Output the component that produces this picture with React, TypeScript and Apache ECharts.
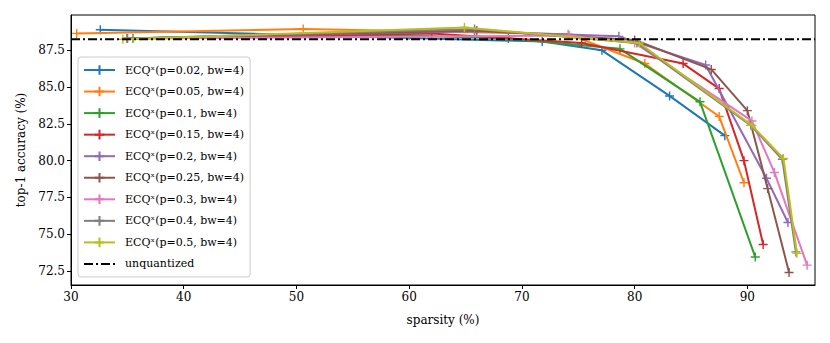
import React, { useEffect, useRef } from "react";
import * as echarts from "echarts";

const seriesNames = [
  "ECQˣ(p=0.02, bw=4)",
  "ECQˣ(p=0.05, bw=4)",
  "ECQˣ(p=0.1, bw=4)",
  "ECQˣ(p=0.15, bw=4)",
  "ECQˣ(p=0.2, bw=4)",
  "ECQˣ(p=0.25, bw=4)",
  "ECQˣ(p=0.3, bw=4)",
  "ECQˣ(p=0.4, bw=4)",
  "ECQˣ(p=0.5, bw=4)",
];
const colors = ["#1f77b4", "#ff7f0e", "#2ca02c", "#d62728", "#9467bd", "#8c564b", "#e377c2", "#7f7f7f", "#bcbd22"];

const p002 = [[32.6, 88.9], [71.8, 88.1], [77.1, 87.5], [83.1, 84.4], [88.0, 81.7]];
const p005 = [[30.5, 88.65], [50.6, 88.95], [74.1, 88.6], [80.9, 86.6], [87.5, 83.0], [89.7, 78.5]];
const p01 = [[35.5, 88.3], [60.0, 88.5], [68.8, 88.3], [78.7, 87.6], [85.8, 84.0], [90.7, 73.45]];
const p015 = [[35.0, 88.3], [62.0, 88.65], [75.3, 88.0], [84.3, 86.6], [87.5, 84.9], [89.7, 80.0], [91.4, 74.3]];
const p02 = [[35.0, 88.3], [65.8, 88.8], [78.6, 88.45], [86.3, 86.5], [91.7, 78.8], [93.6, 75.8]];
const p025 = [[35.0, 88.3], [66.0, 88.85], [80.0, 88.2], [86.8, 86.2], [90.0, 83.4], [91.8, 78.1], [93.7, 72.4]];
const p03 = [[35.0, 88.3], [74.2, 88.5], [80.0, 88.0], [90.4, 82.7], [92.4, 79.2], [95.3, 72.9]];
const p04 = [[35.0, 88.3], [65.8, 88.95], [80.2, 88.0], [90.3, 82.4], [93.1, 80.1], [94.3, 73.8]];
const p05 = [[34.6, 88.25], [64.9, 89.05], [80.4, 88.0], [90.4, 82.4], [93.2, 80.15], [94.4, 73.7]];
const seriesData = [p002, p005, p01, p015, p02, p025, p03, p04, p05];

const unquantizedName = "unquantized";
const unquantizedAcc = 88.25;
const xRange = [30, 96];
const yRange = [71.55, 89.9];
const xTicks = [30, 40, 50, 60, 70, 80, 90];
const yTicks = [72.5, 75, 77.5, 80, 82.5, 85, 87.5];

const FONT = "DejaVu Serif";
const FS = 11;
const AFS = 12;
const PLUS = "path://M0,5L10,5M5,0L5,10";

export default function App() {
  const ref = useRef<HTMLDivElement>(null);
  useEffect(() => {
    if (!ref.current) return;
    const chart = echarts.init(ref.current, null, { renderer: "svg" });
    const series: any[] = seriesData.map((d, i) => ({
      name: seriesNames[i],
      type: "line",
      data: d,
      symbol: PLUS,
      symbolSize: 9,
      showSymbol: true,
      lineStyle: { color: colors[i], width: 2 },
      itemStyle: { color: colors[i], borderColor: colors[i], borderWidth: 1.4 },
      emphasis: { disabled: true },
      z: 2 + i,
    }));
    series.push({
      name: unquantizedName,
      type: "line",
      data: [[xRange[0], unquantizedAcc], [xRange[1], unquantizedAcc]],
      symbol: "none",
      lineStyle: { color: "#000", width: 2, type: [9, 3, 2, 3] },
      itemStyle: { color: "#000", opacity: 0 },
      emphasis: { disabled: true },
      z: 20,
    });
    chart.setOption({
      animation: false,
      textStyle: { fontFamily: FONT },
      grid: {
        left: 71,
        right: 15,
        top: 15,
        bottom: 58,
        show: true,
        borderColor: "#000",
        borderWidth: 1,
        backgroundColor: "transparent",
      },
      legend: {
        orient: "vertical",
        left: 78,
        top: 57,
        data: [...seriesNames, unquantizedName],
        itemWidth: 31,
        itemHeight: 12,
        itemGap: 7.55,
        padding: [6, 6, 6, 5],
        backgroundColor: "rgba(255,255,255,0.8)",
        borderColor: "#cccccc",
        borderWidth: 1,
        borderRadius: 3,
        textStyle: { fontFamily: FONT, fontSize: FS, lineHeight: 14, color: "#000", padding: [0, 0, 0, 5] },
        selectedMode: false,
      },
      xAxis: {
        type: "value",
        min: xRange[0],
        max: xRange[1],
        name: "sparsity (%)",
        nameLocation: "middle",
        nameGap: 29,
        nameTextStyle: { fontFamily: FONT, fontSize: AFS, color: "#000" },
        axisLine: { show: true, lineStyle: { color: "#000", width: 1 } },
        axisTick: { show: true, length: 4, lineStyle: { color: "#000" }, customValues: xTicks },
        axisLabel: { fontFamily: FONT, fontSize: AFS, color: "#000", margin: 6, customValues: xTicks },
        splitLine: { show: false },
      },
      yAxis: {
        type: "value",
        min: yRange[0],
        max: yRange[1],
        name: "top-1 accuracy (%)",
        nameLocation: "middle",
        nameGap: 42,
        nameTextStyle: { fontFamily: FONT, fontSize: AFS, color: "#000" },
        axisLine: { show: true, lineStyle: { color: "#000", width: 1 } },
        axisTick: { show: true, length: 4, lineStyle: { color: "#000" }, customValues: yTicks },
        axisLabel: {
          fontFamily: FONT,
          fontSize: AFS,
          color: "#000",
          margin: 6,
          customValues: yTicks,
          formatter: (v: number) => v.toFixed(1),
        },
        splitLine: { show: false },
      },
      series,
    });
    return () => chart.dispose();
  }, []);
  return (
    <div
      ref={ref}
      style={{ position: "fixed", left: 0, top: 0, width: 830, height: 343, background: "#fff" }}
    />
  );
}
